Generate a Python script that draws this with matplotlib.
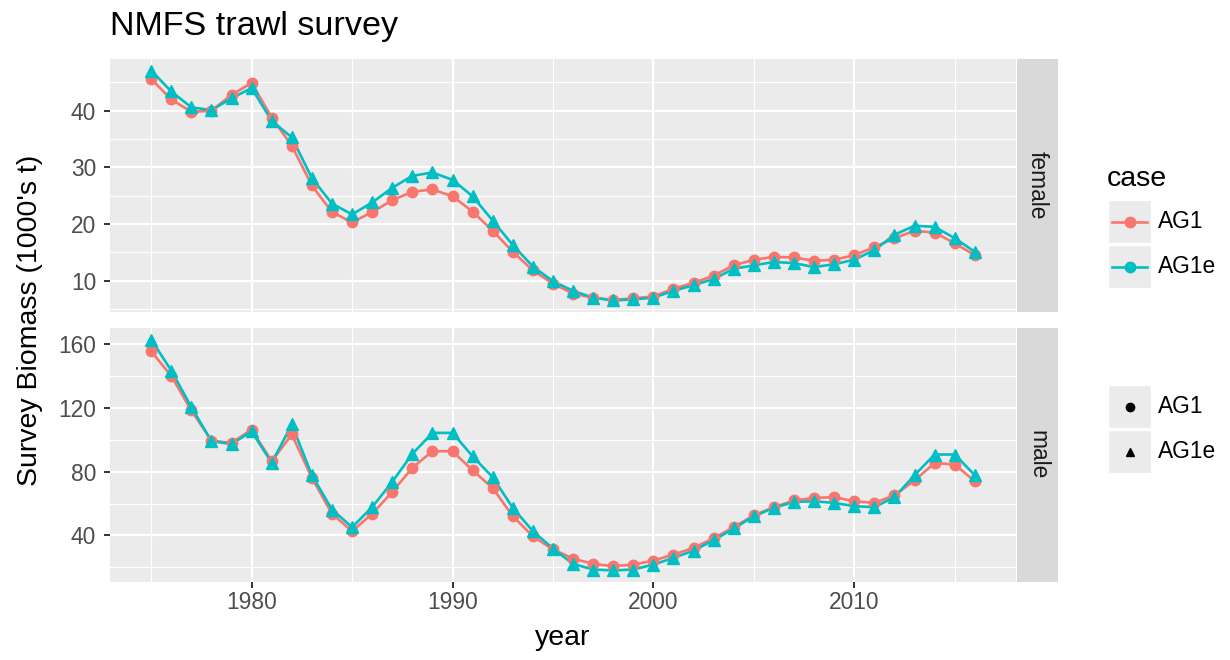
import matplotlib
matplotlib.use('Agg')
import matplotlib.pyplot as plt
from matplotlib.lines import Line2D
from matplotlib.patches import Rectangle

plt.rcParams['font.family'] = ['Liberation Sans', 'DejaVu Sans']

# data
years = list(range(1975, 2017))

female_ag1 = [45.6, 42.0, 39.8, 40.0, 42.8, 44.9, 38.8, 33.8, 26.8, 22.1,
              20.3, 22.1, 24.2, 25.7, 26.1, 24.9, 22.2, 18.8, 15.1, 11.8,
              9.5, 7.7, 7.0, 6.6, 6.9, 7.2, 8.6, 9.6, 10.9, 12.7,
              13.7, 14.2, 14.1, 13.5, 13.7, 14.5, 15.9, 17.5, 18.8, 18.5,
              16.6, 14.5]
female_ag1e = [47.1, 43.4, 40.6, 40.1, 42.2, 44.0, 38.2, 35.3, 28.1, 23.6,
               21.7, 23.8, 26.4, 28.5, 29.1, 27.8, 24.9, 20.6, 16.3, 12.5,
               9.9, 8.2, 7.0, 6.5, 6.7, 7.0, 8.2, 9.2, 10.3, 12.1,
               12.7, 13.3, 13.1, 12.4, 12.9, 13.7, 15.4, 18.1, 19.7, 19.5,
               17.5, 15.1]

male_ag1 = [155.8, 140.1, 118.5, 99.6, 98.1, 106.5, 86.6, 103.4, 76.1, 53.5,
            42.6, 53.5, 67.3, 82.4, 92.9, 92.9, 80.8, 69.8, 52.0, 39.4,
            31.1, 25.4, 22.0, 20.6, 21.6, 24.1, 27.9, 32.1, 38.2, 45.1,
            52.6, 57.7, 61.9, 63.5, 64.0, 61.4, 60.4, 65.2, 74.5, 85.5,
            84.5, 74.0]
male_ag1e = [163.1, 143.6, 120.6, 99.2, 97.4, 105.4, 85.6, 109.7, 77.8, 56.2,
             45.1, 57.7, 73.6, 91.2, 104.4, 104.4, 89.7, 76.5, 57.3, 42.6,
             31.7, 22.0, 18.5, 17.9, 18.5, 21.6, 25.8, 30.4, 36.9, 44.3,
             52.0, 57.3, 61.0, 61.4, 60.4, 58.3, 57.7, 64.0, 77.8, 90.8,
             90.8, 77.8]

cases = ['AG1', 'AG1e']
colors = {'AG1': '#F8766D', 'AG1e': '#00BFC4'}
markers = {'AG1': 'o', 'AG1e': '^'}

panels = [
    ('female', {'AG1': female_ag1, 'AG1e': female_ag1e}, [10, 20, 30, 40], [5, 15, 25, 35, 45]),
    ('male', {'AG1': male_ag1, 'AG1e': male_ag1e}, [40, 80, 120, 160], [20, 60, 100, 140]),
]

W, H = 1230, 660
fig = plt.figure(figsize=(W / 100, H / 100), dpi=100)


def px_axes(l, t, r, b):
    return fig.add_axes([l / W, 1 - b / H, (r - l) / W, (b - t) / H])


boxes = [(59, 312), (328, 582)]
for (name, series, major, minor), (top, bot) in zip(panels, boxes):
    ax = px_axes(110, top, 1016, bot)
    ax.set_facecolor('#EBEBEB')
    for s in ax.spines.values():
        s.set_visible(False)
    ax.set_xticks([1980, 1990, 2000, 2010])
    ax.set_xticks([1975, 1985, 1995, 2005, 2015], minor=True)
    ax.set_yticks(major)
    ax.set_yticks(minor, minor=True)
    ax.grid(which='major', color='white', linewidth=1.6)
    ax.grid(which='minor', color='white', linewidth=0.8)
    ax.set_axisbelow(True)
    ax.tick_params(which='minor', length=0)
    ax.tick_params(which='major', length=4, width=1.4, color='#333333',
                   labelcolor='#4D4D4D', labelsize=16.4)
    ax.tick_params(axis='x', pad=2.5)
    ax.tick_params(axis='y', pad=6)
    if name == 'female':
        ax.tick_params(axis='x', length=0, labelbottom=False)

    for c in cases:
        ax.plot(years, series[c], color=colors[c], linewidth=1.9, zorder=3)
    for c in cases:
        ax.plot(years, series[c], linestyle='none', marker=markers[c],
                markersize=7.5 if c == 'AG1' else 8, color=colors[c], zorder=4)

    allv = series['AG1'] + series['AG1e']
    lo, hi = min(allv), max(allv)
    pad = (hi - lo) * 0.05
    ax.set_ylim(lo - pad, hi + pad)
    ax.set_xlim(1975 - 41 * 0.05, 2016 + 41 * 0.05)

    # facet strip
    st = px_axes(1017, top, 1058, bot)
    st.set_facecolor('#D9D9D9')
    st.set_xticks([])
    st.set_yticks([])
    for s in st.spines.values():
        s.set_visible(False)
    st.text(0.5, 0.5, name, rotation=-90, ha='center', va='center',
            fontsize=16.4, color='#1A1A1A', transform=st.transAxes)

fig.text(110 / W, 1 - 35 / H, 'NMFS trawl survey', fontsize=24.6, color='black',
         ha='left', va='baseline')
fig.text(563 / W, 1 - 645 / H, 'year', fontsize=20.5, ha='center', va='baseline')
fig.text(30 / W, 1 - 320 / H, "Survey Biomass (1000's t)", fontsize=20.5,
         rotation=90, ha='center', va='center')

# legends drawn in pixel coordinates
lg = fig.add_axes([0, 0, 1, 1])
lg.set_xlim(0, W)
lg.set_ylim(H, 0)
lg.axis('off')
lg.patch.set_alpha(0)

lg.text(1107, 186, 'case', fontsize=20.5, ha='left', va='baseline')
key_tops = [200, 245]
for c, kt in zip(cases, key_tops):
    lg.add_patch(Rectangle((1108, kt), 43, 43, facecolor='#EBEBEB', edgecolor='white', linewidth=1))
    cy = kt + 21.5
    lg.add_line(Line2D([1112, 1147], [cy, cy], color=colors[c], linewidth=1.9))
    lg.plot([1129.5], [cy], marker='o', markersize=7.5, color=colors[c])
    lg.text(1158, cy, c, fontsize=16.4, ha='left', va='center')

key_tops = [385, 430]
for c, kt in zip(cases, key_tops):
    lg.add_patch(Rectangle((1108, kt), 43, 43, facecolor='#EBEBEB', edgecolor='white', linewidth=1))
    cy = kt + 21.5
    lg.plot([1129.5], [cy], marker=markers[c], markersize=6, color='black')
    lg.text(1158, cy, c, fontsize=16.4, ha='left', va='center')

fig.savefig('out.png', dpi=100)
